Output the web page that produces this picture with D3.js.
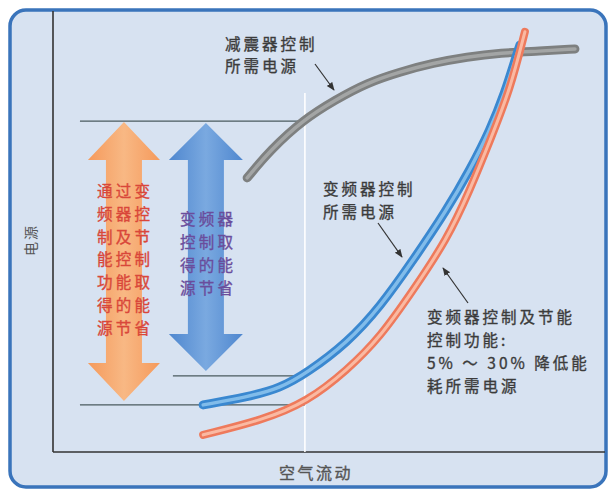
<!DOCTYPE html>
<html><head><meta charset="utf-8">
<script src="https://cdn.jsdelivr.net/npm/d3@7/dist/d3.min.js"></script>
<style>html,body{margin:0;padding:0;background:#fff;}svg{display:block;}</style>
</head><body><svg id="c" width="609" height="492"></svg>
<script>
// ---- data (domain units: air flow 0-100, power 0-100) ----
const damperFlow  = [35.3, 39.5, 45.5, 51.3, 57.1, 63.1, 69.1, 75.3, 81.3, 88.5, 94.9];
const damperPower = [62.3, 68.6, 75.5, 80.0, 83.9, 86.4, 88.4, 89.8, 90.7, 91.1, 91.6];
const vfdFlow  = [27.3, 35.3, 41.3, 46.2, 53.5, 59.5, 65.5, 71.6, 75.8, 79.5, 82.2, 84.0, 84.9];
const vfdPower = [10.7, 12.5, 14.5, 18.0, 24.8, 33.0, 43.6, 55.0, 64.1, 73.2, 81.8, 89.1, 92.5];
const ecoFlow  = [27.3, 38.2, 46.2, 53.5, 59.5, 65.5, 71.6, 75.8, 79.5, 83.1, 85.8];
const ecoPower = [3.9, 7.3, 11.4, 18.6, 26.1, 36.8, 48.2, 59.5, 70.9, 82.3, 95.5];
const refFlow = 45.8;          // vertical reference line
const refTop = 81.6;
const levelDamper = 75.2, levelVfd = 17.3, levelEco = 10.7;
const levelStart = [4.9, 21.8, 4.9];
const arrowFlow = [12.9, 27.8];
const xLabel = "空气流动";
const yLabel = "电源";
const damperLabel = ["减震器控制", "所需电源"];
const vfdLabel = ["变频器控制", "所需电源"];
const ecoLabel = ["变频器控制及节能", "控制功能:", "5% ～ 30% 降低能", "耗所需电源"];
const orangeText = ["通过变", "频器控", "制及节", "能控制", "功能取", "得的能", "源节省"];
const blueText = ["变频器", "控制取", "得的能", "源节省"];

const svg = d3.select("#c");
const x = d3.scaleLinear().domain([0, 100]).range([53, 603]);
const y = d3.scaleLinear().domain([0, 100]).range([452, 12]);
const font = "'Noto Sans CJK SC','Noto Sans',sans-serif";

const defs = svg.append("defs");
const gO = defs.append("linearGradient").attr("id","gO").attr("x1",0).attr("x2",1).attr("y1",0).attr("y2",0);
gO.append("stop").attr("offset","0%").attr("stop-color","#f59a5c");
gO.append("stop").attr("offset","50%").attr("stop-color","#f8b884");
gO.append("stop").attr("offset","100%").attr("stop-color","#f59a5c");
const gB = defs.append("linearGradient").attr("id","gB").attr("x1",0).attr("x2",1).attr("y1",0).attr("y2",0);
gB.append("stop").attr("offset","0%").attr("stop-color","#4f87cf");
gB.append("stop").attr("offset","50%").attr("stop-color","#7aa9e0");
gB.append("stop").attr("offset","100%").attr("stop-color","#4f87cf");
defs.append("marker").attr("id","ah").attr("viewBox","0 0 10 10").attr("refX",9).attr("refY",5)
  .attr("markerWidth",7).attr("markerHeight",7).attr("orient","auto")
  .append("path").attr("d","M0,1 L10,5 L0,9 Z").attr("fill","#333");

// frame
svg.append("rect").attr("x",10).attr("y",10).attr("width",596).attr("height",477)
  .attr("rx",16).attr("fill","#d7e2f1").attr("stroke","#3a74bb").attr("stroke-width",3.5);

// axes
svg.append("line").attr("x1",x(0)).attr("x2",x(0)).attr("y1",11).attr("y2",y(0))
  .attr("stroke","#333").attr("stroke-width",1.6);
svg.append("line").attr("x1",x(0)).attr("x2",605).attr("y1",y(0)).attr("y2",y(0))
  .attr("stroke","#333").attr("stroke-width",1.6);

// reference lines
svg.append("line").attr("x1",x(refFlow)).attr("x2",x(refFlow)).attr("y1",y(refTop)).attr("y2",y(0))
  .attr("stroke","#ffffff").attr("stroke-width",1.6);
[levelDamper, levelVfd, levelEco].forEach((lv,i)=>{
  svg.append("line").attr("x1",x(levelStart[i])).attr("x2",x(refFlow)).attr("y1",y(lv)).attr("y2",y(lv))
    .attr("stroke","#4a5a5e").attr("stroke-width",1.3);
});

// double arrows
function dblArrow(cx, top, bot, hw, hl, sw, fill){
  const p = `M${cx},${top} L${cx+hw},${top+hl} L${cx+sw},${top+hl} L${cx+sw},${bot-hl} L${cx+hw},${bot-hl} L${cx},${bot} L${cx-hw},${bot-hl} L${cx-sw},${bot-hl} L${cx-sw},${top+hl} L${cx-hw},${top+hl} Z`;
  svg.append("path").attr("d",p).attr("fill",fill);
}
dblArrow(x(arrowFlow[0]), y(levelDamper)+1, y(levelEco)-4, 36, 38, 18, "url(#gO)");
dblArrow(x(arrowFlow[1]), y(levelDamper)+2, y(levelVfd)-5, 37, 37, 18, "url(#gB)");

// text helper
function txt(t, x0, y0, size, color, ls){
  return svg.append("text").attr("x",x0).attr("y",y0).attr("dominant-baseline","central")
    .attr("font-family",font).attr("font-size",size).attr("letter-spacing",ls)
    .attr("fill",color).attr("stroke",color).attr("stroke-width",0.35).text(t);
}
orangeText.forEach((t,i)=>txt(t, 97, 190+i*22.8, 15.5, "#d9473a", 3.2));
blueText.forEach((t,i)=>txt(t, 180, 218+i*23, 15.5, "#6a4d9c", 3.2));

// curves
const line = d3.line().x(d=>x(d[0])).y(d=>y(d[1])).curve(d3.curveBasis);
function tube(fl, pw, outer, inner, w){
  const pts = d3.zip(fl, pw);
  svg.append("path").attr("d",line(pts)).attr("fill","none").attr("stroke",outer)
    .attr("stroke-width",w).attr("stroke-linecap","round");
  svg.append("path").attr("d",line(pts)).attr("fill","none").attr("stroke",inner)
    .attr("stroke-width",w*0.38).attr("stroke-linecap","round").attr("opacity",0.85);
}
tube(damperFlow, damperPower, "#7e8080", "#a9abab", 9);
tube(vfdFlow, vfdPower, "#3a88d0", "#8ec6ef", 9);
tube(ecoFlow, ecoPower, "#ee7a5c", "#fbc4ae", 8);

// labels
function label(lines, x0, y0, dy){
  lines.forEach((t,i)=>txt(t, x0, y0+i*dy, 15.5, "#3c3c3c", 3));
}
label(damperLabel, 225, 43, 22);
label(vfdLabel, 323, 188, 23);
label(ecoLabel, 427, 316, 23);

// leader arrows
function leader(x1,y1,x2,y2){
  svg.append("line").attr("x1",x1).attr("y1",y1).attr("x2",x2).attr("y2",y2)
    .attr("stroke","#333").attr("stroke-width",1.2).attr("marker-end","url(#ah)");
}
leader(315,64,334,90);
leader(378,223,402,257);
leader(468,303,443,268);

// axis labels
txt(xLabel, 316, 472, 16, "#555", 2.5).attr("text-anchor","middle");
svg.append("text").attr("transform","translate(30,240) rotate(-90)").attr("text-anchor","middle")
  .attr("dominant-baseline","central").attr("font-family",font).attr("font-size",14)
  .attr("letter-spacing",2).attr("fill","#555").text(yLabel);
</script></body></html>
